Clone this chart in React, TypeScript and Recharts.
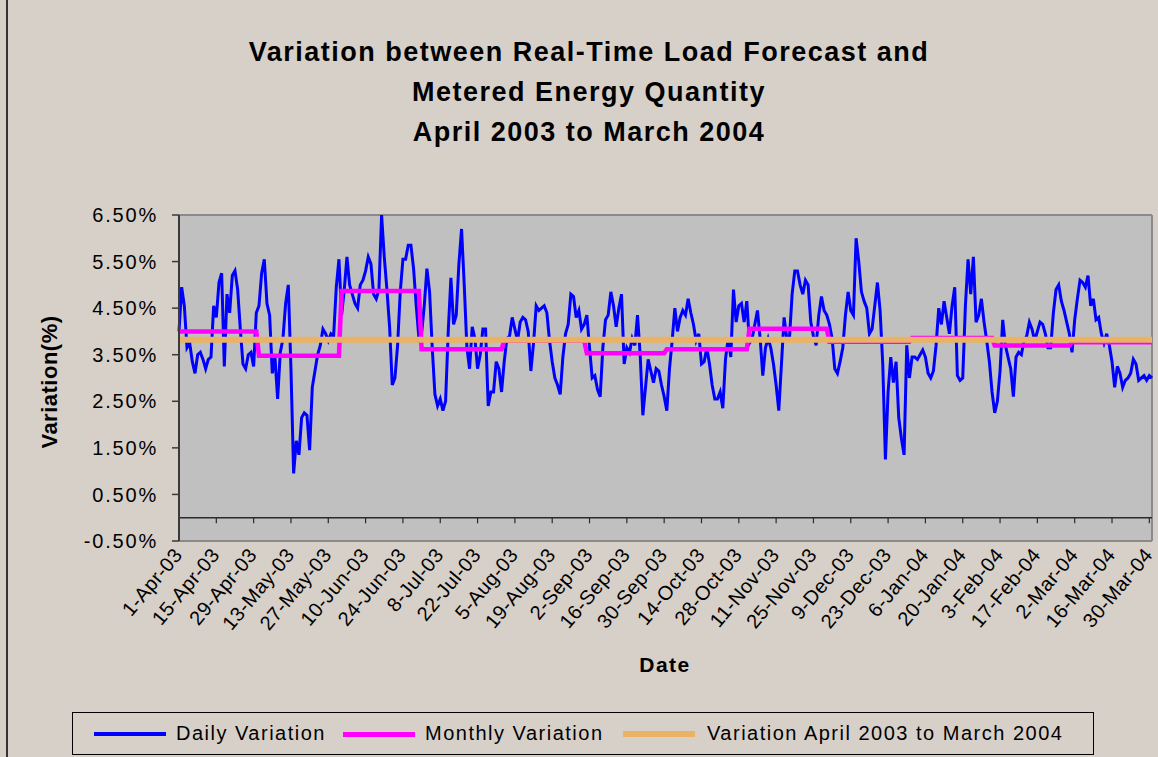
import { LineChart, Line, XAxis, YAxis, CartesianGrid, ReferenceLine } from 'recharts'

const MONTH_NAMES = ['Jan', 'Feb', 'Mar', 'Apr', 'May', 'Jun', 'Jul', 'Aug', 'Sep', 'Oct', 'Nov', 'Dec']

// months Apr-03 .. Mar-04
const monthLengths = [30, 31, 30, 31, 31, 30, 31, 30, 31, 31, 29, 31]
const monthlyVariation = [4.0, 3.48, 4.87, 3.62, 3.8, 3.53, 3.62, 4.06, 3.78, 3.86, 3.7, 3.77]
const yearVariation = 3.82

const yTicks = [-0.5, 0.5, 1.5, 2.5, 3.5, 4.5, 5.5, 6.5]

// daily variation (%), 1-Apr-03 .. 31-Mar-04
const dailyVariation = [
  4.0, 4.95, 4.55, 3.65, 3.75, 3.35, 3.1, 3.5, 3.55, 3.4,
  3.2, 3.4, 3.45, 4.55, 4.3, 5.05, 5.25, 3.25, 4.8, 4.4,
  5.2, 5.3, 4.9, 4.05, 3.3, 3.2, 3.5, 3.55, 3.25, 4.4,
  4.55, 5.25, 5.55, 4.6, 4.35, 3.1, 3.45, 2.55, 3.55, 3.85,
  4.6, 5.0, 3.2, 0.95, 1.65, 1.35, 2.15, 2.25, 2.2, 1.45,
  2.8, 3.15, 3.5, 3.7, 4.05, 3.95, 3.8, 3.95, 3.9, 4.95,
  5.55, 4.35, 4.9, 5.6, 5.0, 4.8, 4.6, 4.5, 5.0, 5.1,
  5.3, 5.6, 5.45, 4.8, 4.7, 4.9, 6.5, 5.6, 4.9, 4.1,
  2.85, 3.0, 3.7, 4.85, 5.55, 5.55, 5.85, 5.85, 5.35, 4.55,
  3.85, 3.95, 4.55, 5.35, 4.85, 3.65, 2.65, 2.4, 2.55, 2.3,
  2.5, 4.0, 5.15, 4.15, 4.35, 5.45, 6.2, 5.0, 3.65, 3.2,
  4.1, 3.85, 3.2, 3.5, 4.05, 4.05, 2.4, 2.7, 2.7, 3.35,
  3.2, 2.7, 3.35, 3.85, 3.9, 4.3, 4.05, 3.8, 4.2, 4.3,
  4.25, 4.0, 3.15, 3.75, 4.55, 4.45, 4.5, 4.55, 4.4, 3.8,
  3.35, 3.0, 2.85, 2.65, 3.45, 3.95, 4.15, 4.8, 4.75, 4.3,
  4.45, 4.05, 4.15, 4.35, 3.65, 3.0, 3.05, 2.75, 2.6, 3.65,
  4.25, 4.35, 4.85, 4.55, 4.1, 4.5, 4.8, 3.3, 3.65, 3.55,
  3.85, 3.7, 4.35, 3.5, 2.2, 2.8, 3.4, 3.15, 2.9, 3.2,
  3.15, 2.85, 2.6, 2.3, 3.2, 3.8, 4.5, 4.0, 4.3, 4.45,
  4.35, 4.7, 4.4, 4.15, 3.8, 3.95, 3.3, 3.35, 3.65, 3.3,
  2.85, 2.55, 2.55, 2.7, 2.35, 3.4, 3.85, 3.45, 4.9, 4.2,
  4.55, 4.6, 4.2, 4.65, 3.75, 3.85, 4.15, 4.45, 3.85, 3.05,
  3.65, 3.85, 3.65, 3.3, 2.85, 2.3, 3.3, 4.3, 3.85, 3.85,
  4.8, 5.3, 5.3, 5.0, 4.8, 5.1, 5.0, 4.2, 3.9, 3.7,
  4.35, 4.75, 4.45, 4.35, 4.15, 3.85, 3.2, 3.1, 3.35, 3.65,
  4.35, 4.85, 4.45, 4.35, 6.0, 5.5, 4.85, 4.65, 4.5, 3.95,
  4.05, 4.55, 5.05, 4.45, 3.3, 1.25, 2.7, 3.45, 2.9, 3.35,
  2.15, 1.7, 1.35, 3.7, 3.0, 3.45, 3.45, 3.4, 3.5, 3.6,
  3.45, 3.1, 3.0, 3.15, 3.7, 4.5, 4.15, 4.65, 4.3, 3.95,
  4.55, 4.95, 3.05, 2.95, 3.0, 4.55, 5.55, 4.8, 5.6, 4.2,
  4.35, 4.7, 4.2, 3.8, 3.35, 2.7, 2.25, 2.5, 3.15, 4.25,
  3.7, 3.45, 3.2, 2.6, 3.45, 3.55, 3.5, 3.8, 3.9, 4.2,
  4.05, 3.8, 4.0, 4.2, 4.15, 3.95, 3.65, 3.65, 4.4, 4.9,
  5.0, 4.65, 4.45, 4.2, 3.95, 3.55, 4.25, 4.7, 5.1, 5.05,
  4.95, 5.2, 4.55, 4.7, 4.25, 4.3, 3.95, 3.75, 3.95, 3.7,
  3.35, 2.8, 3.25, 3.1, 2.8, 2.95, 3.0, 3.1, 3.4, 3.3,
  2.95, 3.0, 3.05, 2.95, 3.05, 3.0,
]

const FONT = '"Liberation Sans", Arial, sans-serif'
const BG = '#d7d0c9'

const fmtDate = (d: Date) => `${d.getDate()}-${MONTH_NAMES[d.getMonth()]}-${String(d.getFullYear()).slice(2)}`

const dates = dailyVariation.map((_, i) => fmtDate(new Date(2003, 3, 1 + i)))
const monthlyByDay = monthLengths.flatMap((len, m) => Array(len).fill(monthlyVariation[m]))
const tickDates = dates.filter((_, i) => i % 14 === 0)

const data = dates.map((date, i) => ({
  date,
  daily: dailyVariation[i],
  monthly: monthlyByDay[i],
  year: yearVariation,
}))

function DateTick({ x, y, payload }: any) {
  const ax = x - 1
  const ay = y + 10
  return (
    <text
      x={ax}
      y={ay}
      transform={`rotate(-50 ${ax} ${ay})`}
      textAnchor="end"
      dominantBaseline="central"
      fontSize={20}
      fontFamily={FONT}
      letterSpacing={0.4}
      fill="#000"
    >
      {payload.value}
    </text>
  )
}

const legendItems = [
  { label: 'Daily Variation', color: '#0000ff', width: 4, lineLeft: 21, textLeft: 103 },
  { label: 'Monthly Variation', color: '#ff00ff', width: 5, lineLeft: 270, textLeft: 352 },
  { label: 'Variation April 2003 to March 2004', color: '#e9b264', width: 6, lineLeft: 550, textLeft: 634 },
]

export default function App() {
  return (
    <div style={{ position: 'absolute', left: 0, top: 0, width: 1158, height: 757, background: BG, fontFamily: FONT, overflow: 'hidden' }}>
      <div style={{ position: 'absolute', left: 6, top: 0, width: 2, height: 757, background: '#333' }} />

      <div style={{ position: 'absolute', left: 0, top: 32, width: 1178, textAlign: 'center', fontSize: 27, fontWeight: 'bold', lineHeight: '40px', letterSpacing: 1.5 }}>
        <div>Variation between Real-Time Load Forecast and</div>
        <div>Metered Energy Quantity</div>
        <div>April 2003 to March 2004</div>
      </div>

      <div style={{ position: 'absolute', left: 50, top: 382, transform: 'translate(-50%, -50%) rotate(-90deg)', fontSize: 22, fontWeight: 'bold', whiteSpace: 'nowrap', letterSpacing: 0.5 }}>
        Variation(%)
      </div>
      <div style={{ position: 'absolute', left: 665, top: 665, transform: 'translate(-50%, -50%)', fontSize: 21, fontWeight: 'bold', letterSpacing: 1.5 }}>
        Date
      </div>

      <LineChart width={1158} height={757} data={data} margin={{ top: 215, right: 6, bottom: 116, left: 0 }} style={{ position: 'absolute', left: 0, top: 0 }}>
        <CartesianGrid horizontal={false} vertical={false} fill="#c0c0c0" stroke="none" />
        <XAxis
          dataKey="date"
          interval={13}
          height={100}
          axisLine={false}
          tickLine={false}
          tickSize={0}
          tickMargin={0}
          tick={<DateTick />}
        />
        <YAxis
          width={179}
          domain={[-0.5, 6.5]}
          ticks={yTicks}
          interval={0}
          tickFormatter={(v: number) => `${v.toFixed(2)}%`}
          axisLine={{ stroke: '#3a3a3a', strokeWidth: 2 }}
          tickLine={{ stroke: '#3a3a3a', strokeWidth: 1.5 }}
          tickSize={7}
          tickMargin={14}
          tick={{ fill: '#000', fontSize: 20, fontFamily: FONT, letterSpacing: 1.8 }}
        />
        <ReferenceLine y={6.5} stroke="#8a8a8a" strokeWidth={2} />
        <ReferenceLine y={-0.5} stroke="#8a8a8a" strokeWidth={2} />
        <ReferenceLine x={dates[dates.length - 1]} stroke="#8a8a8a" strokeWidth={2} />
        <ReferenceLine y={0} stroke="#2a2a2a" strokeWidth={1.5} />
        {tickDates.map(d => (
          <ReferenceLine key={d} segment={[{ x: d, y: 0 }, { x: d, y: -0.12 }]} stroke="#2a2a2a" strokeWidth={1.2} />
        ))}
        <Line type="linear" dataKey="daily" stroke="#0000ff" strokeWidth={3} dot={false} isAnimationActive={false} />
        <Line type="linear" dataKey="monthly" stroke="#ff00ff" strokeWidth={4.5} dot={false} isAnimationActive={false} />
        <Line type="linear" dataKey="year" stroke="#e9b264" strokeWidth={6} dot={false} isAnimationActive={false} />
      </LineChart>

      <div style={{ position: 'absolute', left: 72, top: 712, width: 1022, height: 43, border: '1px solid #000', boxSizing: 'border-box', background: BG }}>
        {legendItems.map(item => (
          <div key={item.label}>
            <div style={{ position: 'absolute', left: item.lineLeft, top: 21 - item.width / 2, width: 72, height: item.width, background: item.color }} />
            <div style={{ position: 'absolute', left: item.textLeft, top: 8, fontSize: 20, lineHeight: '24px', letterSpacing: 1.5, whiteSpace: 'nowrap' }}>
              {item.label}
            </div>
          </div>
        ))}
      </div>
    </div>
  )
}
